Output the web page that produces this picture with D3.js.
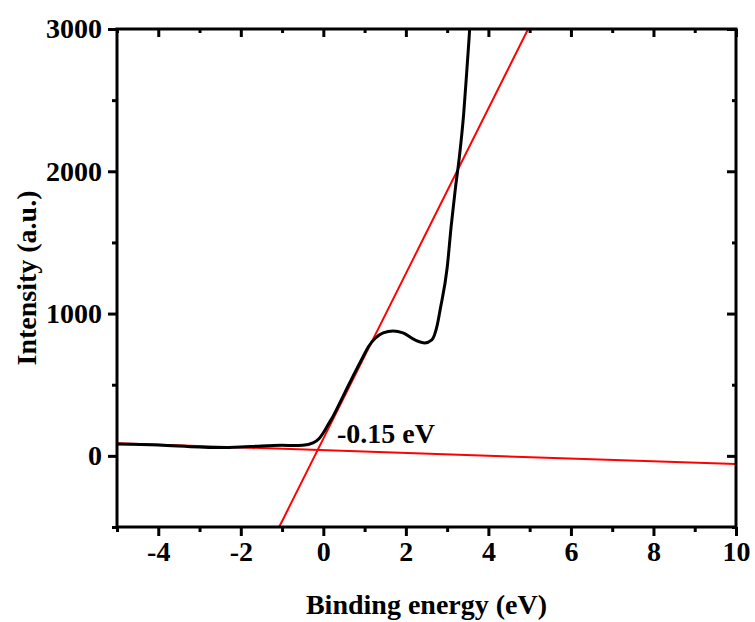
<!DOCTYPE html>
<html>
<head>
<meta charset="utf-8">
<script src="https://cdn.jsdelivr.net/npm/d3@7"></script>
<style>
  body { margin: 0; background: #fff; }
</style>
</head>
<body>
<svg id="chart" width="755" height="622"></svg>
<script>
// binding energy (eV) vs intensity of the valence band spectrum
const energy = [-5.0, -4.0, -3.0, -2.5, -2.0, -1.5, -1.0, -0.7, -0.5, -0.25, -0.1, 0.0, 0.1, 0.23, 0.48, 0.72,
  0.96, 1.1, 1.25, 1.45, 1.69, 1.93, 2.22, 2.46, 2.63, 2.75, 2.83, 3.0, 3.1, 3.2, 3.3, 3.4, 3.48, 3.55, 3.6];
const intensity = [84, 76, 62, 58, 62, 70, 74, 72, 74, 91, 122, 162, 212, 275, 420, 560,
  695, 770, 825, 864, 878, 864, 815, 794, 815, 906, 1026, 1320, 1620, 1880, 2110, 2400, 2720, 3020, 3300];

// linear fits (endpoints)
const baselineFit = [[-5, 89], [10, -58]];
const edgeFit = [[-1.07, -500], [4.98, 3010]];
const edgeLabel = "-0.15 eV";
const labelPos = [0.33, 88];

const xTicks = [-4, -2, 0, 2, 4, 6, 8, 10];
const xMinor = [-5, -3, -1, 1, 3, 5, 7, 9];
const yTicks = [0, 1000, 2000, 3000];
const yMinor = [-500, 500, 1500, 2500];

const FONT = "'Liberation Serif', 'Times New Roman', serif";
const FS = 28;

const svg = d3.select("#chart");
const W = 755, H = 622;
const m = {top: 29, right: 19, bottom: 95, left: 117};
const w = W - m.left - m.right, h = H - m.top - m.bottom;

const x = d3.scaleLinear([-5, 10], [0, w]);
const y = d3.scaleLinear([-500, 3000], [h, 0]);

const g = svg.append("g").attr("transform", `translate(${m.left},${m.top})`);

g.append("clipPath").attr("id", "clip")
  .append("rect").attr("width", w).attr("height", h);

const plot = g.append("g").attr("clip-path", "url(#clip)");
const line = d3.line().x(d => x(d[0])).y(d => y(d[1]));

plot.append("path").datum(baselineFit)
  .attr("d", line).attr("fill", "none").attr("stroke", "#ff0000").attr("stroke-width", 2);
plot.append("path").datum(edgeFit)
  .attr("d", line).attr("fill", "none").attr("stroke", "#ff0000").attr("stroke-width", 2);

const pts = energy.map((e, i) => [e, intensity[i]]);
plot.append("path").datum(pts)
  .attr("d", line.curve(d3.curveMonotoneX))
  .attr("fill", "none").attr("stroke", "#000").attr("stroke-width", 3);

g.append("text")
  .attr("x", x(labelPos[0])).attr("y", y(labelPos[1]))
  .text(edgeLabel);

// axes
const fmt = d => String(d);
const axBottom = g.append("g").attr("transform", `translate(0,${h})`)
  .call(d3.axisBottom(x).tickValues(xTicks).tickSize(9).tickPadding(5).tickFormat(fmt));
const axBottomMinor = g.append("g").attr("transform", `translate(0,${h})`)
  .call(d3.axisBottom(x).tickValues(xMinor).tickSize(5).tickFormat(""));
const axTop = g.append("g")
  .call(d3.axisTop(x).tickValues(xTicks).tickSize(-8).tickFormat(""));
const axTopMinor = g.append("g")
  .call(d3.axisTop(x).tickValues(xMinor).tickSize(-4).tickFormat(""));
const axLeft = g.append("g")
  .call(d3.axisLeft(y).tickValues(yTicks).tickSize(9).tickPadding(6).tickFormat(fmt));
const axLeftMinor = g.append("g")
  .call(d3.axisLeft(y).tickValues(yMinor).tickSize(5).tickFormat(""));
const axRight = g.append("g").attr("transform", `translate(${w},0)`)
  .call(d3.axisRight(y).tickValues(yTicks).tickSize(-9).tickFormat(""));
const axRightMinor = g.append("g").attr("transform", `translate(${w},0)`)
  .call(d3.axisRight(y).tickValues(yMinor).tickSize(-4).tickFormat(""));

[axBottom, axBottomMinor, axTop, axTopMinor, axLeft, axLeftMinor, axRight, axRightMinor].forEach(a => {
  a.select(".domain").remove();
  a.selectAll(".tick line").attr("stroke", "#000").attr("stroke-width", 3);
});

g.append("rect").attr("width", w).attr("height", h)
  .attr("fill", "none").attr("stroke", "#000").attr("stroke-width", 3);

// axis titles
svg.append("text")
  .attr("x", m.left + w / 2).attr("y", 614)
  .attr("text-anchor", "middle")
  .text("Binding energy (eV)");
svg.append("text")
  .attr("transform", `translate(36,${m.top + h / 2}) rotate(-90)`)
  .attr("text-anchor", "middle")
  .text("Intensity (a.u.)");

svg.selectAll("text")
  .attr("font-family", FONT).attr("font-weight", "bold")
  .attr("font-size", FS).attr("fill", "#000");
</script>
</body>
</html>
